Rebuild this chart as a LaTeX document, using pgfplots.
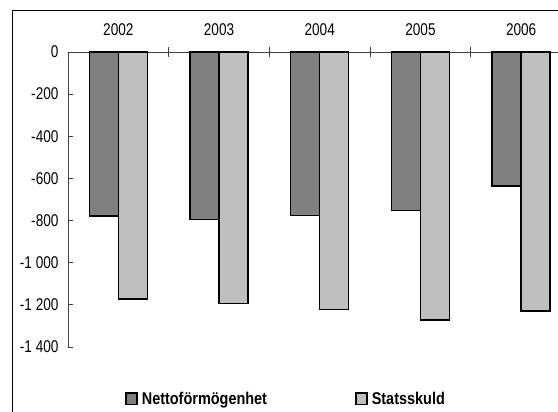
\documentclass[border=0pt]{standalone}
\usepackage{fontspec}
\setmainfont{Liberation Sans}[FakeStretch=0.8]
\newfontfamily\legfont{Liberation Sans}[FakeStretch=0.85]
\usepackage{pgfplots}
\pgfplotsset{compat=1.18}
\pgfplotstableread{
x net skuld
1 -778 -1172
2 -794 -1193
3 -777 -1221
4 -753 -1272
5 -636 -1229
}\data
\begin{document}
\begin{tikzpicture}[x=1pt,y=1pt]
\useasboundingbox (0pt,0pt) rectangle (558pt,-412pt);
\clip (0pt,0pt) rectangle (558pt,-412pt);
\draw[line width=1pt] (12pt,-420pt) -- (12pt,-10.5pt) -- (570pt,-10.5pt);
\begin{axis}[
  at={(68pt,-347pt)}, anchor=south west,
  scale only axis, width=503.5pt, height=295pt,
  xmin=0.5, xmax=5.5, ymin=-1400, ymax=0,
  axis x line=top, axis y line=left,
  axis line style={-, draw=black!75, line width=0.8pt},
  ybar=0pt, bar width=29pt,
  xtick={1,...,5}, xticklabels={2002,2003,2004,2005,2006},
  major x tick style={draw=none},
  minor xtick={1.5,2.5,3.5,4.5},
  minor x tick style={draw=black!75, line width=0.8pt},
  minor tick length=10pt,
  xtick align=center,
  ytick={-1400,-1200,-1000,-800,-600,-400,-200,0},
  yticklabels={-1 400,-1 200,-1 000,-800,-600,-400,-200,0},
  ytick align=inside,
  major tick length=5pt,
  major y tick style={draw=black!75, line width=0.8pt},
  tick label style={font=\fontsize{17}{20}\selectfont},
  xticklabel style={yshift=10pt},
  yticklabel style={xshift=-6pt},
  clip=false,
  legend columns=2,
  legend style={at={(0.107,-0.176)}, anchor=west, draw=none, fill=none,
    font=\legfont\bfseries\fontsize{17}{20}\selectfont,
    /tikz/every even column/.append style={column sep=86pt}},
  legend image code/.code={\draw[#1, line width=1.5pt] (0.75pt,-5.75pt) rectangle (11.75pt,5.75pt); \path (14pt,0pt);},
]
\addplot[draw=black, line width=1.5pt, fill=black!50] table[x=x,y=net] {\data};
\addplot[draw=black, line width=1.5pt, fill=black!25] table[x=x,y=skuld] {\data};
\legend{Nettoförmögenhet, Statsskuld}
\end{axis}
\end{tikzpicture}
\end{document}
